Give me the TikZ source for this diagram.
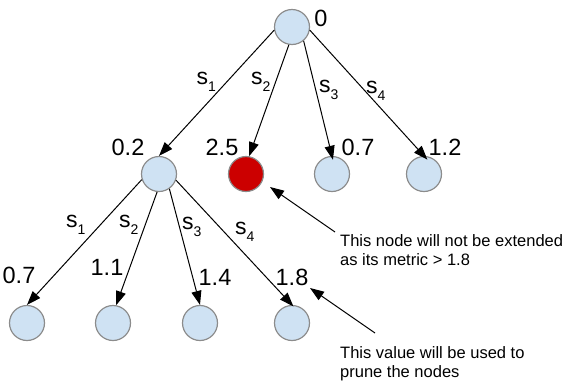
\documentclass[tikz,border=0pt]{standalone}
\usepackage{fontspec}
\setmainfont{Liberation Sans}
\usetikzlibrary{arrows.meta}
\definecolor{lblue}{HTML}{CFE2F3}
\definecolor{dred}{HTML}{CC0000}
\definecolor{rim}{HTML}{8C8C8C}
\newcommand{\sk}[1]{s\raisebox{-7pt}{\fontsize{14}{14}\selectfont #1}}
\begin{document}
\begin{tikzpicture}[x=1pt,y=-1pt,
  st/.style={circle,draw=rim,line width=1.2pt,fill=lblue,minimum size=35pt,inner sep=0pt},
  bad/.style={st,fill=dred},
  val/.style={font=\fontsize{23.5}{23.5}\selectfont,inner sep=0pt},
  elab/.style={font=\fontsize{23}{23}\selectfont,inner sep=0pt,anchor=base west},
  note/.style={font=\fontsize{16.5}{19}\selectfont,inner sep=0pt,anchor=north west,align=left},
  edge/.style={line width=1pt,-{Triangle[length=14pt,width=10pt]}},
]
\useasboundingbox (0,0) rectangle (576,381);
% nodes
\node[st] (root) at (292,27) {};
\node[st] (a) at (159,174) {};
\node[bad] (r) at (246,174) {};
\node[st] (c) at (332,174) {};
\node[st] (d) at (424,174) {};
\node[st] (e) at (27,323) {};
\node[st] (f) at (113,323) {};
\node[st] (g) at (200,323) {};
\node[st] (h) at (292,323) {};
% values
\node[val] (v0) at (321,18) {0};
\node[val] (va) at (128,147) {0.2};
\node[val] (vr) at (222,147) {2.5};
\node[val] (vc) at (358,147) {0.7};
\node[val] (vd) at (445,147) {1.2};
\node[val] (ve) at (19,275) {0.7};
\node[val] (vf) at (107,267) {1.1};
\node[val] (vg) at (215,277) {1.4};
\node[val] (vh) at (292,277) {1.8};
% edges
\draw[edge] (root.190) -- (a.north);
\draw[edge] (root.260) -- (r.80);
\draw[edge,shorten >=-4pt] (root.310) -- (c.north);
\draw[edge,shorten >=-5pt] (root.350) -- (d.north);
\draw[edge] (a.198) -- (e.north);
\draw[edge] (a.264) -- (f.80);
\draw[edge] (a.305) -- (g.north);
\draw[edge,shorten >=-2pt] (a.340) -- (h.north);
% edge labels
\node[elab] (l1) at (196.5,84) {\sk{1}};
\node[elab] (l2) at (251,84) {\sk{2}};
\node[elab] (l3) at (319,92) {\sk{3}};
\node[elab] (l4) at (366,93) {\sk{4}};
\node[elab] (m1) at (66,227) {\sk{1}};
\node[elab] (m2) at (119,227) {\sk{2}};
\node[elab] (m3) at (182,229) {\sk{3}};
\node[elab] (m4) at (235,234) {\sk{4}};
% notes
\node[note] (t1) at (340,234.5) {This node will not be extended\\as its metric > 1.8};
\node[note] (t2) at (340,346) {This value will be used to\\prune the nodes};
\coordinate (p1) at (335,232);
\coordinate (q1) at (270,187);
\coordinate (p2) at (375,333);
\coordinate (q2) at (310,288);
\draw[edge] (p1) -- (q1);
\draw[edge] (p2) -- (q2);
\end{tikzpicture}
\end{document}
